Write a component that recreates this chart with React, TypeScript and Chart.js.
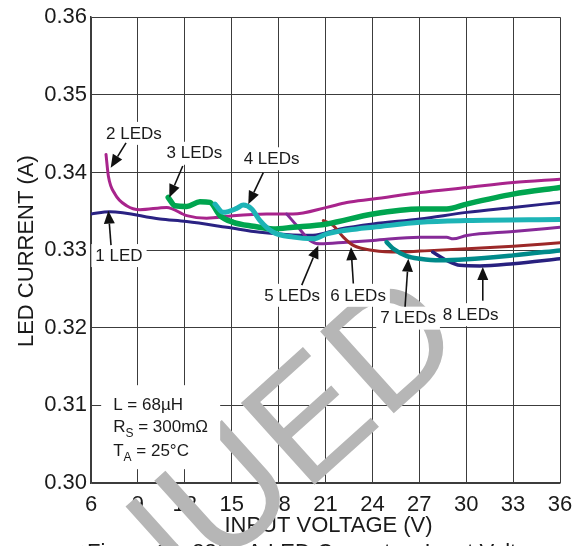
import React, { useEffect, useRef } from "react";
import { Chart, registerables } from "chart.js";

Chart.register(...registerables);

// ---------- data ----------
const xTicks = [6, 9, 12, 15, 18, 21, 24, 27, 30, 33, 36];
const xTickLabels = ["6", "9", "12", "15", "18", "21", "24", "27", "30", "33", "36"];
const yTicks = [0.3, 0.31, 0.32, 0.33, 0.34, 0.35, 0.36];
const yTickLabels = ["0.30", "0.31", "0.32", "0.33", "0.34", "0.35", "0.36"];

const led1V = [6.0, 7.2, 10.41, 12.12, 14.68, 16.81, 18.92, 20.2, 21.93, 24.04, 27.04, 30.03, 33.0, 36.0];
const led1I = [0.33465, 0.33495, 0.334, 0.33367, 0.33294, 0.3323, 0.33196, 0.3319, 0.33273, 0.33337, 0.33401, 0.33486, 0.3355, 0.33614];

const led2V = [6.96, 7.11, 7.54, 8.28, 9.13, 10.84, 12.12, 13.4, 15.08, 17.23, 18.92, 21.08, 22.36, 24.04, 27.04, 30.03, 33.0, 36.0];
const led2I = [0.34232, 0.33956, 0.3372, 0.33572, 0.3352, 0.3355, 0.33444, 0.3341, 0.33444, 0.33465, 0.33465, 0.3355, 0.33614, 0.33657, 0.33742, 0.33806, 0.3387, 0.33913];

const led3V = [10.94, 11.37, 12.12, 12.97, 13.61, 14.25, 15.1, 16.38, 17.66, 18.92, 21.08, 24.04, 27.04, 28.75, 30.03, 33.0, 36.0];
const led3I = [0.33678, 0.33572, 0.33563, 0.33623, 0.33614, 0.33444, 0.33358, 0.33307, 0.33273, 0.33294, 0.33337, 0.33465, 0.33529, 0.33529, 0.33593, 0.33721, 0.33806];

const led4V = [13.93, 14.46, 15.32, 15.74, 16.28, 16.81, 17.66, 18.94, 20.2, 21.08, 23.0, 24.04, 27.04, 30.03, 36.0];
const led4I = [0.33593, 0.33486, 0.33537, 0.3358, 0.33529, 0.3338, 0.3323, 0.33167, 0.33145, 0.33209, 0.33273, 0.33294, 0.33358, 0.3338, 0.33393];

const led5V = [18.52, 19.16, 20.01, 20.65, 22.36, 24.04, 27.04, 28.75, 29.16, 30.03, 33.0, 36.0];
const led5I = [0.33465, 0.33316, 0.33124, 0.33081, 0.33102, 0.33124, 0.33166, 0.33166, 0.33145, 0.33188, 0.3324, 0.33294];

const led6V = [20.86, 21.5, 22.14, 22.78, 24.06, 25.77, 27.04, 30.03, 33.0, 36.0];
const led6I = [0.3338, 0.33316, 0.33167, 0.3306, 0.32996, 0.32975, 0.32987, 0.33017, 0.33051, 0.33094];

const led7V = [24.91, 25.34, 26.2, 27.04, 28.32, 30.03, 33.0, 36.0];
const led7I = [0.33103, 0.33017, 0.32923, 0.32889, 0.32868, 0.32881, 0.32932, 0.32996];

const led8V = [27.86, 28.75, 29.6, 30.88, 33.0, 36.0];
const led8I = [0.32975, 0.32868, 0.32804, 0.32796, 0.32825, 0.32889];

// labels: text, label centre (V, I), arrow start (V, I), arrow tip (V, I)
const labelTexts = ["1 LED", "2 LEDs", "3 LEDs", "4 LEDs", "5 LEDs", "6 LEDs", "7 LEDs", "8 LEDs"];
const labelV = [7.79, 8.75, 12.62, 17.55, 18.86, 23.08, 26.28, 30.28];
const labelI = [0.32936, 0.3451, 0.34254, 0.34183, 0.32424, 0.32424, 0.3213, 0.32175];
const arrowFromV = [7.28, 8.24, 11.87, 17.02, 19.48, 22.78, 26.09, 31.06];
const arrowFromI = [0.33064, 0.34382, 0.34084, 0.33998, 0.32549, 0.32569, 0.3227, 0.32348];
const arrowToV = [7.11, 7.26, 11.01, 16.06, 20.54, 22.63, 26.3, 31.06];
const arrowToI = [0.33508, 0.34062, 0.33678, 0.33592, 0.3306, 0.33039, 0.32889, 0.32783];

const xTitle = "INPUT VOLTAGE (V)";
const yTitle = "LED CURRENT (A)";
const caption = "Figure 14. 330mA LED Current vs Input Voltage";
const watermark = "DISCONTINUED";

const FONT = "'Liberation Sans', Arial, Helvetica, sans-serif";

function pts(v: number[], i: number[]) {
  return v.map((x, k) => ({ x, y: i[k] }));
}

function arrow(ctx: CanvasRenderingContext2D, x0: number, y0: number, x1: number, y1: number) {
  const ang = Math.atan2(y1 - y0, x1 - x0);
  const len = 13;
  const hw = 5.5;
  const bx = x1 - len * Math.cos(ang);
  const by = y1 - len * Math.sin(ang);
  ctx.beginPath();
  ctx.moveTo(x0, y0);
  ctx.lineTo(bx, by);
  ctx.strokeStyle = "#111";
  ctx.lineWidth = 1.6;
  ctx.stroke();
  ctx.beginPath();
  ctx.moveTo(x1, y1);
  ctx.lineTo(bx + hw * Math.sin(ang), by - hw * Math.cos(ang));
  ctx.lineTo(bx - hw * Math.sin(ang), by + hw * Math.cos(ang));
  ctx.closePath();
  ctx.fillStyle = "#111";
  ctx.fill();
}

const overlayPlugin = {
  id: "overlay",
  afterDraw(chart: any) {
    const ctx: CanvasRenderingContext2D = chart.ctx;
    const xs = chart.scales.x;
    const ys = chart.scales.y;
    const area = chart.chartArea;
    ctx.save();

    // axis titles
    ctx.fillStyle = "#1a1a1a";
    ctx.font = `22px ${FONT}`;
    ctx.textAlign = "center";
    ctx.textBaseline = "alphabetic";
    ctx.fillText(xTitle, (area.left + area.right) / 2 + 3, 532);
    ctx.save();
    ctx.translate(33, (area.top + area.bottom) / 2 + 1);
    ctx.rotate(-Math.PI / 2);
    ctx.fillText(yTitle, 0, 0);
    ctx.restore();

    // caption (cut off by the page bottom)
    ctx.textAlign = "left";
    ctx.fillText(caption, 87, 559);

    // watermark
    ctx.save();
    ctx.translate(384, 422);
    ctx.rotate((-42 * Math.PI) / 180);
    ctx.font = `160px ${FONT}`;
    ctx.fillStyle = "#b6b6b6";
    const pre = ctx.measureText(watermark.slice(0, -1)).width;
    ctx.fillText(watermark, -pre, 0);
    ctx.restore();

    // label boxes + texts
    ctx.font = `17px ${FONT}`;
    ctx.textAlign = "center";
    ctx.textBaseline = "middle";
    labelTexts.forEach((t, k) => {
      const cx = xs.getPixelForValue(labelV[k]);
      const cy = ys.getPixelForValue(labelI[k]);
      const w = ctx.measureText(t).width;
      ctx.fillStyle = "#ffffff";
      ctx.fillRect(cx - w / 2 - 4, cy - 11, w + 8, 23);
      ctx.fillStyle = "#1a1a1a";
      ctx.fillText(t, cx, cy + 1);
    });

    // parameter box
    const bx = xs.getPixelForValue(6.65);
    const by = ys.getPixelForValue(0.3126);
    ctx.fillStyle = "#ffffff";
    ctx.fillRect(bx, by, 119, 84);
    ctx.fillStyle = "#1a1a1a";
    ctx.textAlign = "left";
    ctx.textBaseline = "alphabetic";
    const tx = bx + 12;
    ctx.font = `17px ${FONT}`;
    ctx.fillText("L = 68\u00b5H", tx, by + 25);
    // R_S
    ctx.fillText("R", tx, by + 47);
    let w = ctx.measureText("R").width;
    ctx.font = `12px ${FONT}`;
    ctx.fillText("S", tx + w, by + 52);
    let w2 = ctx.measureText("S").width;
    ctx.font = `17px ${FONT}`;
    ctx.fillText(" = 300m\u03a9", tx + w + w2, by + 47);
    // T_A
    ctx.fillText("T", tx, by + 71);
    w = ctx.measureText("T").width;
    ctx.font = `12px ${FONT}`;
    ctx.fillText("A", tx + w, by + 76);
    w2 = ctx.measureText("A").width;
    ctx.font = `17px ${FONT}`;
    ctx.fillText(" = 25\u00b0C", tx + w + w2, by + 71);

    // arrows
    labelTexts.forEach((_, k) => {
      arrow(
        ctx,
        xs.getPixelForValue(arrowFromV[k]),
        ys.getPixelForValue(arrowFromI[k]),
        xs.getPixelForValue(arrowToV[k]),
        ys.getPixelForValue(arrowToI[k])
      );
    });

    ctx.restore();
  },
};

export default function App() {
  const ref = useRef<HTMLCanvasElement | null>(null);

  useEffect(() => {
    if (!ref.current) return;
    Chart.defaults.font.family = FONT;
    const mk = (label: string, v: number[], i: number[], color: string, width: number, order: number) => ({
      label,
      data: pts(v, i),
      borderColor: color,
      backgroundColor: color,
      borderWidth: width,
      pointRadius: 0,
      fill: false,
      cubicInterpolationMode: "monotone" as const,
      borderCapStyle: "round" as const,
      borderJoinStyle: "round" as const,
      order,
    });
    const chart = new Chart(ref.current, {
      type: "line",
      data: {
        datasets: [
          mk("1 LED", led1V, led1I, "#2a2283", 3, 8),
          mk("2 LEDs", led2V, led2I, "#a8248c", 3, 7),
          mk("5 LEDs", led5V, led5I, "#862a98", 3, 6),
          mk("6 LEDs", led6V, led6I, "#9c2828", 3, 5),
          mk("8 LEDs", led8V, led8I, "#28207f", 3.5, 4),
          mk("7 LEDs", led7V, led7I, "#008a8a", 4.5, 3),
          mk("3 LEDs", led3V, led3I, "#00a54f", 5.5, 2),
          mk("4 LEDs", led4V, led4I, "#1db4b6", 5, 1),
        ],
      },
      options: {
        responsive: false,
        devicePixelRatio: 1,
        animation: false,
        events: [],
        layout: { padding: { top: 13, right: 27, left: 0, bottom: 0 } },
        plugins: {
          legend: { display: false },
          tooltip: { enabled: false },
          title: { display: false },
        },
        scales: {
          x: {
            type: "linear",
            min: 6,
            max: 36,
            afterFit(s: any) {
              s.height = 63;
            },
            afterBuildTicks(s: any) {
              s.ticks = xTicks.map((v) => ({ value: v }));
            },
            grid: { color: "#3c3c3c", lineWidth: 1, drawTicks: false },
            border: { color: "#3c3c3c", width: 1.5 },
            ticks: {
              color: "#1a1a1a",
              font: { size: 22, family: FONT },
              padding: 9,
              maxRotation: 0,
              autoSkip: false,
              callback: (_v: any, idx: number) => xTickLabels[idx],
            },
          },
          y: {
            type: "linear",
            min: 0.3,
            max: 0.36,
            afterFit(s: any) {
              s.width = 91;
            },
            afterBuildTicks(s: any) {
              s.ticks = yTicks.map((v) => ({ value: v }));
            },
            grid: { color: "#3c3c3c", lineWidth: 1, drawTicks: false },
            border: { color: "#3c3c3c", width: 1.5 },
            ticks: {
              color: "#1a1a1a",
              font: { size: 22, family: FONT },
              padding: 4,
              autoSkip: false,
              callback: (_v: any, idx: number) => yTickLabels[idx],
            },
          },
        },
      },
      plugins: [overlayPlugin],
    } as any);
    return () => chart.destroy();
  }, []);

  return (
    <div style={{ position: "absolute", left: 0, top: 0, width: 587, height: 546, background: "#fff", overflow: "hidden" }}>
      <canvas ref={ref} width={587} height={546} style={{ display: "block", width: 587, height: 546 }} />
    </div>
  );
}
